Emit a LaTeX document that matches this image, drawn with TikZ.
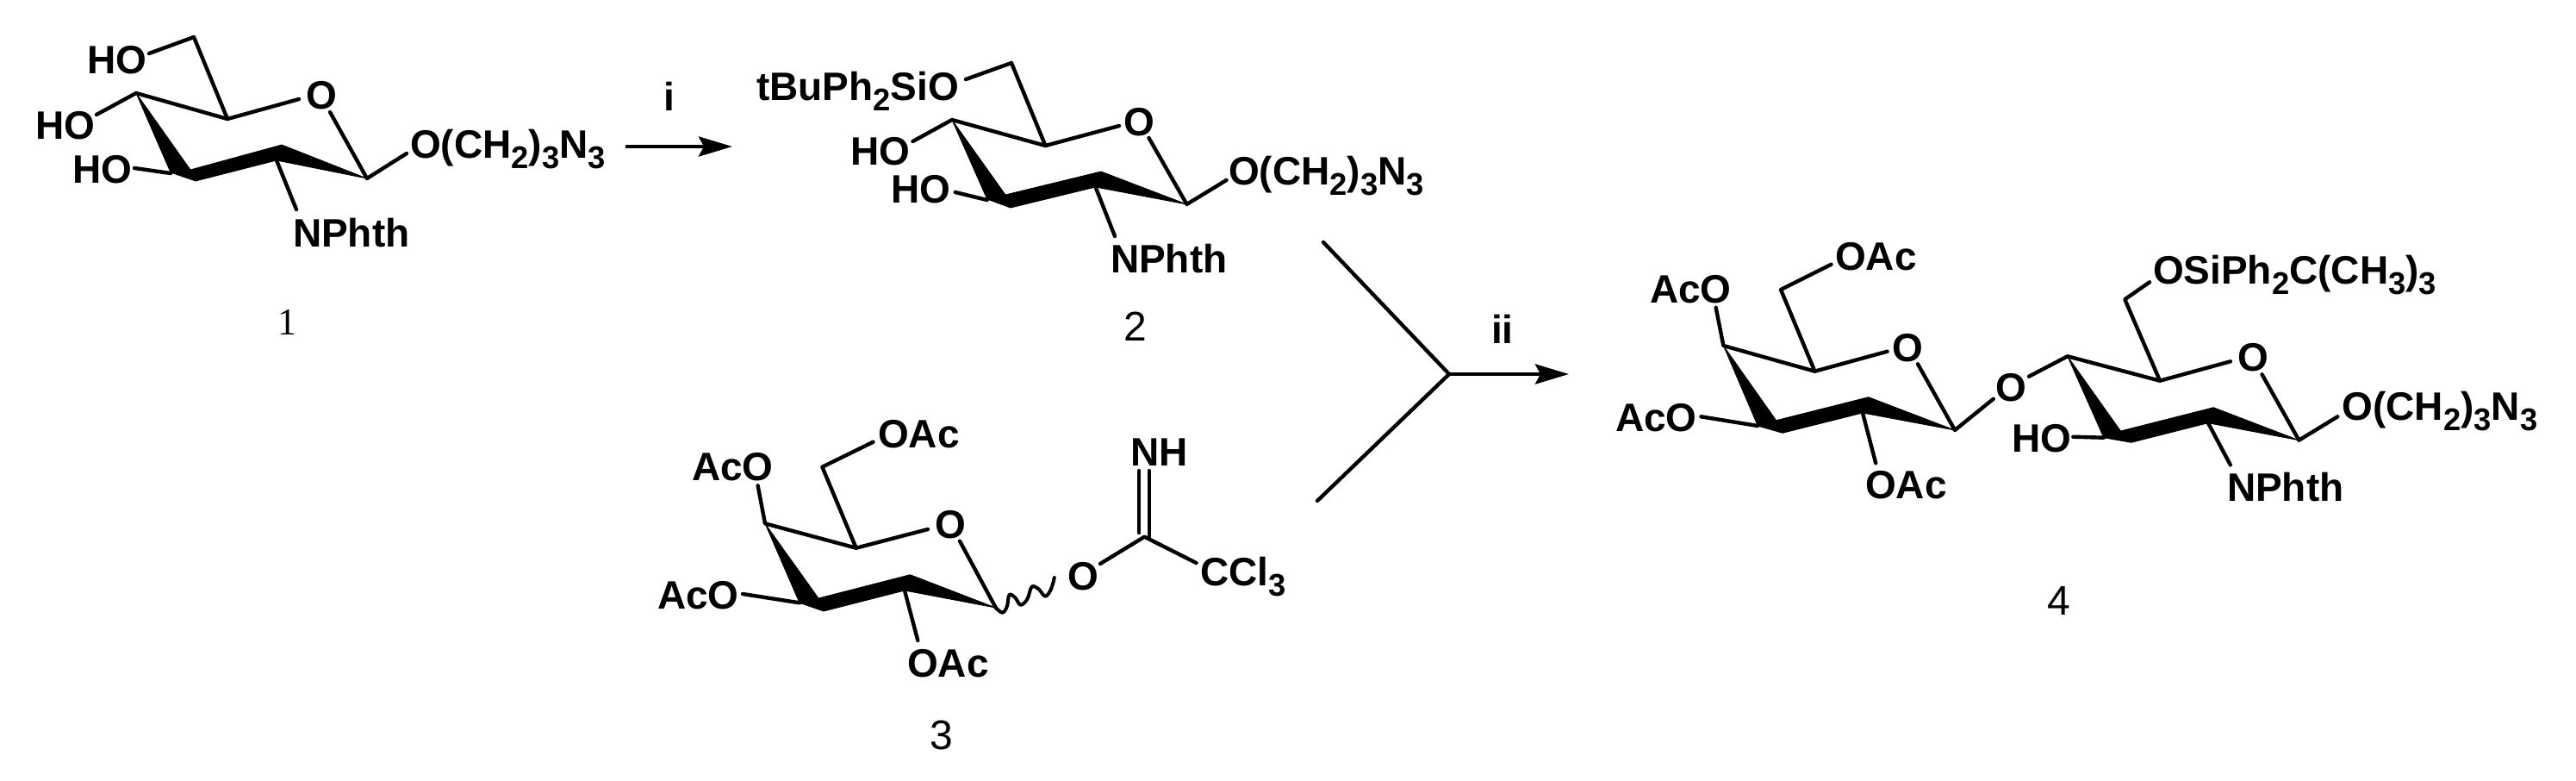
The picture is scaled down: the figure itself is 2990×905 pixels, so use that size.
\documentclass[tikz,border=0pt]{standalone}
\usepackage{fontspec}
\setmainfont{Liberation Sans}
\newfontfamily\numserif{Liberation Serif}
\usetikzlibrary{arrows.meta}
\newcommand{\chsub}[1]{\raisebox{-6pt}{\fontsize{18.2}{19}\selectfont #1}}
\tikzset{
  x=0.5pt,y=-0.5pt,
  bond/.style={draw=black,line width=2.2pt,line cap=round,line join=round},
  wavy bond/.style={draw=black,line width=2pt,line cap=round,line join=round},
  rxn/.style={draw=black,line width=2.2pt,-{Stealth[length=19.5pt,width=11.5pt,inset=3pt]}},
  wedge/.style={fill=black,draw=black,line width=0.4pt,line join=round},
  atom/.style={anchor=base west,inner sep=0pt,outer sep=0pt,font=\fontsize{23}{24}\selectfont\bfseries},
  num/.style={anchor=base,inner sep=0pt,outer sep=0pt,font=\fontsize{24}{24}\selectfont},
}
\begin{document}
\begin{tikzpicture}
\useasboundingbox[fill=white] (0,0) rectangle (2990,905);

% ---- compound 1
\coordinate (aC6) at (225,43);
\coordinate (aC5) at (264,138);
\coordinate (aC4) at (158,108);
\coordinate (aC1) at (426,207);
\coordinate (aC2) at (321,186);
\coordinate (aOe) at (173,62);
\coordinate (aO4) at (112,133);
\coordinate (aO3) at (156,195);
\coordinate (aC3) at (198,201);
\coordinate (aOa) at (347,115);
\coordinate (aOb) at (383,130);
\coordinate (aOc) at (472,178);
\coordinate (aN) at (344,243);
\node[atom] (aHO6) at (101,85) {HO};
\node[atom] (aHO4) at (41,161) {HO};
\node[atom] (aHO3) at (84,212) {HO};
\node[atom] (aOr) at (355,126) {O};
\node[atom] (aOR) at (476,183) {O(CH\chsub{2})\chsub{3}N\chsub{3}};
\node[atom] (aNP) at (340,286) {NPhth};
\node[num,font=\fontsize{22}{24}\selectfont\numserif] (n1) at (333,388) {1};
\draw[bond] (aOe)--(aC6)--(aC5)--(aOa);
\draw[bond] (aO4)--(aC4)--(aC5);
\draw[bond] (aO3)--(aC3);
\draw[bond] (aOb)--(aC1)--(aOc);
\draw[bond] (aC2)--(aN);
\fill[wedge] (aC4)--(221,197)--(327,168)--(aC1)--(aC2)--(227,210)--(198,200)--cycle;

% ---- arrow i
\coordinate (iS) at (726,170);
\coordinate (iE) at (850,170);
\draw[rxn] (iS)--(iE);
\node[atom] (iL) at (770,128) {i};

% ---- compound 2
\coordinate (bC6) at (1174,73);
\coordinate (bC5) at (1213.4,169);
\coordinate (bC4) at (1105,139);
\coordinate (bC1) at (1377.5,237);
\coordinate (bC2) at (1271.6,217);
\coordinate (bC3) at (1145.7,232);
\coordinate (bOe) at (1121,92);
\coordinate (bO4) at (1059.5,164);
\coordinate (bO3) at (1108.7,223);
\coordinate (bOa) at (1299,146);
\coordinate (bOb) at (1333.5,160);
\coordinate (bOc) at (1423.5,209);
\coordinate (bN) at (1294,274);
\node[atom] (bSi) at (878,116) {tBuPh\chsub{2}SiO};
\node[atom] (bHO4) at (987,191) {HO};
\node[atom] (bHO3) at (1034,235) {HO};
\node[atom] (bOr) at (1304,157) {O};
\node[atom] (bOR) at (1426,214) {O(CH\chsub{2})\chsub{3}N\chsub{3}};
\node[atom] (bNP) at (1289,316) {NPhth};
\node[num] (n2) at (1318,395) {2};
\draw[bond] (bOe)--(bC6)--(bC5)--(bOa);
\draw[bond] (bO4)--(bC4)--(bC5);
\draw[bond] (bO3)--(bC3);
\draw[bond] (bOb)--(bC1)--(bOc);
\draw[bond] (bC2)--(bN);
\fill[wedge] (bC4)--(1167,226)--(1278,199)--(bC1)--(bC2)--(1173,241)--(1145.7,231)--cycle;

% ---- compound 3
\coordinate (cC6) at (954.4,541.7);
\coordinate (cC5) at (993.7,635.7);
\coordinate (cC4) at (888,607.3);
\coordinate (cC1) at (1155.8,705);
\coordinate (cC2) at (1050,685);
\coordinate (cC3) at (928,699.3);
\coordinate (cOe) at (1013.5,512.7);
\coordinate (cO4) at (879.6,563.3);
\coordinate (cO3) at (862,689);
\coordinate (cOa) at (1077,614);
\coordinate (cOb) at (1114,627.7);
\coordinate (cO2) at (1065.3,743);
\coordinate (cOw) at (1277,654);
\coordinate (cCi) at (1328.4,622.7);
\coordinate (cCl) at (1388.5,653);
\coordinate (cNa) at (1322,546);
\coordinate (cNb) at (1333.7,546);
\coordinate (cCa) at (1322,618);
\coordinate (cCb) at (1333.7,624);
\node[atom] (cOAc6) at (1019,519) {OAc};
\node[atom] (cAcO4) at (803,557) {AcO};
\node[atom] (cAcO3) at (763,706.7) {AcO};
\node[atom] (cOAc2) at (1053,785) {OAc};
\node[atom] (cOr) at (1085,624) {O};
\node[atom] (cOi) at (1239,684) {O};
\node[atom] (cNH) at (1312,540.7) {NH};
\node[atom] (cCCl) at (1393,679.3) {CCl\chsub{3}};
\node[num] (n3) at (1093,869) {3};
\draw[bond] (cOe)--(cC6)--(cC5)--(cOa);
\draw[bond] (cO4)--(cC4)--(cC5);
\draw[bond] (cO3)--(cC3);
\draw[bond] (cOb)--(cC1);
\draw[bond] (cC2)--(cO2);
\draw[bond] (cOw)--(cCi)--(cCl);
\draw[bond] (cNa)--(cCa);
\draw[bond] (cNb)--(cCb);
\draw[wavy bond] plot[smooth,tension=0.6] coordinates {(1155.8,705) (1163.6,710.7) (1168.9,703.3) (1171.5,690) (1178.3,693.3) (1184.6,701.7) (1192.4,695) (1197.6,680.7) (1205.5,683.3) (1213.3,691.7) (1220,683.3) (1223.8,670)};
\fill[wedge] (cC4)--(950,694)--(1056.4,666.7)--(cC1)--(cC2)--(956,709)--(928,699.3)--cycle;

% ---- coupling arrow ii
\coordinate (yT) at (1536,281);
\coordinate (yB) at (1529,581);
\coordinate (yJ) at (1682,434);
\coordinate (yE) at (1821,434);
\draw[bond] (yT)--(yJ)--(yB);
\draw[rxn] (yJ)--(yE);
\node[atom] (iiL) at (1731,398) {ii};

% ---- compound 4, left ring
\coordinate (dC6) at (2067,336);
\coordinate (dC5) at (2106.4,430.7);
\coordinate (dC4) at (2000.4,401);
\coordinate (dC1) at (2269,499);
\coordinate (dC2) at (2162,479);
\coordinate (dC3) at (2040.2,494);
\coordinate (dOe) at (2125.5,306.7);
\coordinate (dO4) at (1991.6,356.7);
\coordinate (dO3) at (1974.4,483.3);
\coordinate (dOa) at (2190.6,407.7);
\coordinate (dOb) at (2226,422.3);
\coordinate (dOc) at (2313.8,462.7);
\coordinate (dO2) at (2177.2,537.3);
\node[atom] (dOAc6) at (2130,313) {OAc};
\node[atom] (dAcO4) at (1915,351) {AcO};
\node[atom] (dAcO3) at (1875,500) {AcO};
\node[atom] (dOAc2) at (2165,578.3) {OAc};
\node[atom] (dOr) at (2196,419) {O};
\node[atom] (dOl) at (2316,465) {O};
\draw[bond] (dOe)--(dC6)--(dC5)--(dOa);
\draw[bond] (dO4)--(dC4)--(dC5);
\draw[bond] (dO3)--(dC3);
\draw[bond] (dOb)--(dC1)--(dOc);
\draw[bond] (dC2)--(dO2);
\fill[wedge] (dC4)--(2061.6,487.7)--(2168.8,460.7)--(dC1)--(dC2)--(2069,502.3)--(dC3)--cycle;

% ---- compound 4, right ring
\coordinate (eL) at (2355,436.7);
\coordinate (eC4) at (2399.8,413.3);
\coordinate (eC6) at (2466.3,347.3);
\coordinate (eC5) at (2507,441.7);
\coordinate (eC1) at (2668.4,510.7);
\coordinate (eC2) at (2563,490.7);
\coordinate (eC3) at (2441.8,507.7);
\coordinate (eOe) at (2495,327.3);
\coordinate (eO3) at (2406.3,506.7);
\coordinate (eOa) at (2588.8,419.3);
\coordinate (eOb) at (2625.5,434.3);
\coordinate (eOc) at (2713.3,483.3);
\coordinate (eN) at (2588.8,539.3);
\node[atom] (eSi) at (2499,329.3) {OSiPh\chsub{2}C(CH\chsub{3})\chsub{3}};
\node[atom] (eHO) at (2335,524) {HO};
\node[atom] (eOr) at (2597,430) {O};
\node[atom] (eOR) at (2718.6,487.3) {O(CH\chsub{2})\chsub{3}N\chsub{3}};
\node[atom] (eNP) at (2585,581.7) {NPhth};
\node[num] (n4) at (2390,713) {4};
\draw[bond] (eL)--(eC4)--(eC5)--(eOa);
\draw[bond] (eOe)--(eC6)--(eC5);
\draw[bond] (eO3)--(eC3);
\draw[bond] (eOb)--(eC1)--(eOc);
\draw[bond] (eC2)--(eN);
\fill[wedge] (eC4)--(2461.4,500)--(2569.2,472.7)--(eC1)--(eC2)--(2473.7,513.3)--(eC3)--cycle;
\end{tikzpicture}
\end{document}
